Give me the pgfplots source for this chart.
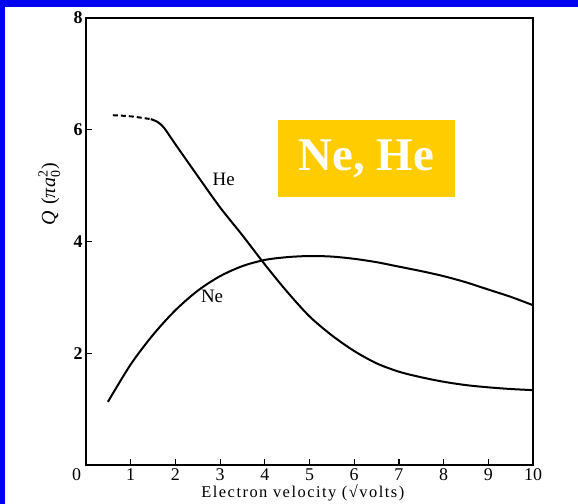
\documentclass[border=0pt]{standalone}
\usepackage{pgfplots}
\pgfplotsset{compat=1.18}
\usepackage{fontspec}
\setmainfont{Liberation Serif}

\definecolor{frameblue}{RGB}{0,0,240}
\definecolor{tagyellow}{RGB}{255,204,0}

\begin{document}
\begin{tikzpicture}
  % page with blue edge on the top and left
  \useasboundingbox (0,0) rectangle (578bp,504bp);
  \fill[frameblue] (0,0) rectangle (578bp,504bp);
  \fill[white] (5bp,0) rectangle (578bp,497bp);

  \begin{axis}[
    at={(86bp,39bp)}, anchor=south west,
    scale only axis, width=447bp, height=447bp,
    xmin=0, xmax=10, ymin=0, ymax=8,
    xtick={0,1,...,10},
    xticklabels={{\makebox[0pt][r]{0\hspace{5bp}}},1,2,3,4,5,6,7,8,9,10},
    ytick={2,4,6,8},
    tick align=inside, xtick pos=bottom, ytick pos=left,
    major tick length=6bp,
    axis line style={line width=1.4bp},
    every tick/.style={black, line width=1.2bp},
    /pgf/number format/assume math mode=true,
    xticklabel style={font=\fontsize{18}{18}\selectfont},
    yticklabel style={font=\bfseries\fontsize{18}{18}\selectfont},
    xlabel={\addfontfeature{LetterSpace=9}Electron velocity (√volts)},
    xlabel style={at={(axis description cs:0.485,-0.062)}, anchor=center,
                  font=\fontsize{16.5}{16.5}\selectfont},
    ylabel={\textit{Q}\,\,(\textit{π\kern1bp a}$_{\mathrm{0}}^{\mathrm{2}}$)},
    ylabel style={at={(axis description cs:-0.082,0.605)}, anchor=center,
                  font=\fontsize{20}{20}\selectfont},
  ]
    % He: dashed low-energy extrapolation
    \addplot[black, line width=2bp, dash pattern=on 5bp off 3bp, smooth]
      coordinates {(0.60,6.26) (1.00,6.24) (1.45,6.19)};
    % He: measured cross section
    \addplot[black, line width=2bp, smooth]
      coordinates {(1.45,6.19) (1.60,6.14) (1.75,6.03) (2.00,5.74) (2.50,5.17)
                   (3.00,4.61) (3.50,4.11) (4.00,3.59) (4.50,3.10) (5.00,2.66)
                   (5.50,2.32) (6.00,2.04) (6.50,1.82) (7.00,1.67) (7.50,1.57)
                   (8.00,1.49) (8.50,1.43) (9.00,1.39) (9.50,1.36) (10.00,1.34)};
    % Ne
    \addplot[black, line width=2bp, smooth]
      coordinates {(0.49,1.13) (1.00,1.80) (1.50,2.33) (2.00,2.77) (2.50,3.12)
                   (3.00,3.38) (3.50,3.56) (4.00,3.67) (4.50,3.72) (5.00,3.74)
                   (5.50,3.73) (6.00,3.69) (6.50,3.63) (7.00,3.55) (7.50,3.47)
                   (8.00,3.38) (8.50,3.27) (9.00,3.14) (9.50,3.01) (10.00,2.86)};
    \node[font=\fontsize{19}{19}\selectfont] at (axis cs:3.08,5.12) {He};
    \node[font=\fontsize{19}{19}\selectfont] at (axis cs:2.82,3.02) {Ne};
  \end{axis}

  % title tag
  \node[fill=tagyellow, minimum width=177bp, minimum height=77bp, inner sep=0pt,
        text=white, font=\bfseries\fontsize{47}{47}\selectfont]
    at (366.5bp,345.5bp) {Ne, He};
\end{tikzpicture}
\end{document}
